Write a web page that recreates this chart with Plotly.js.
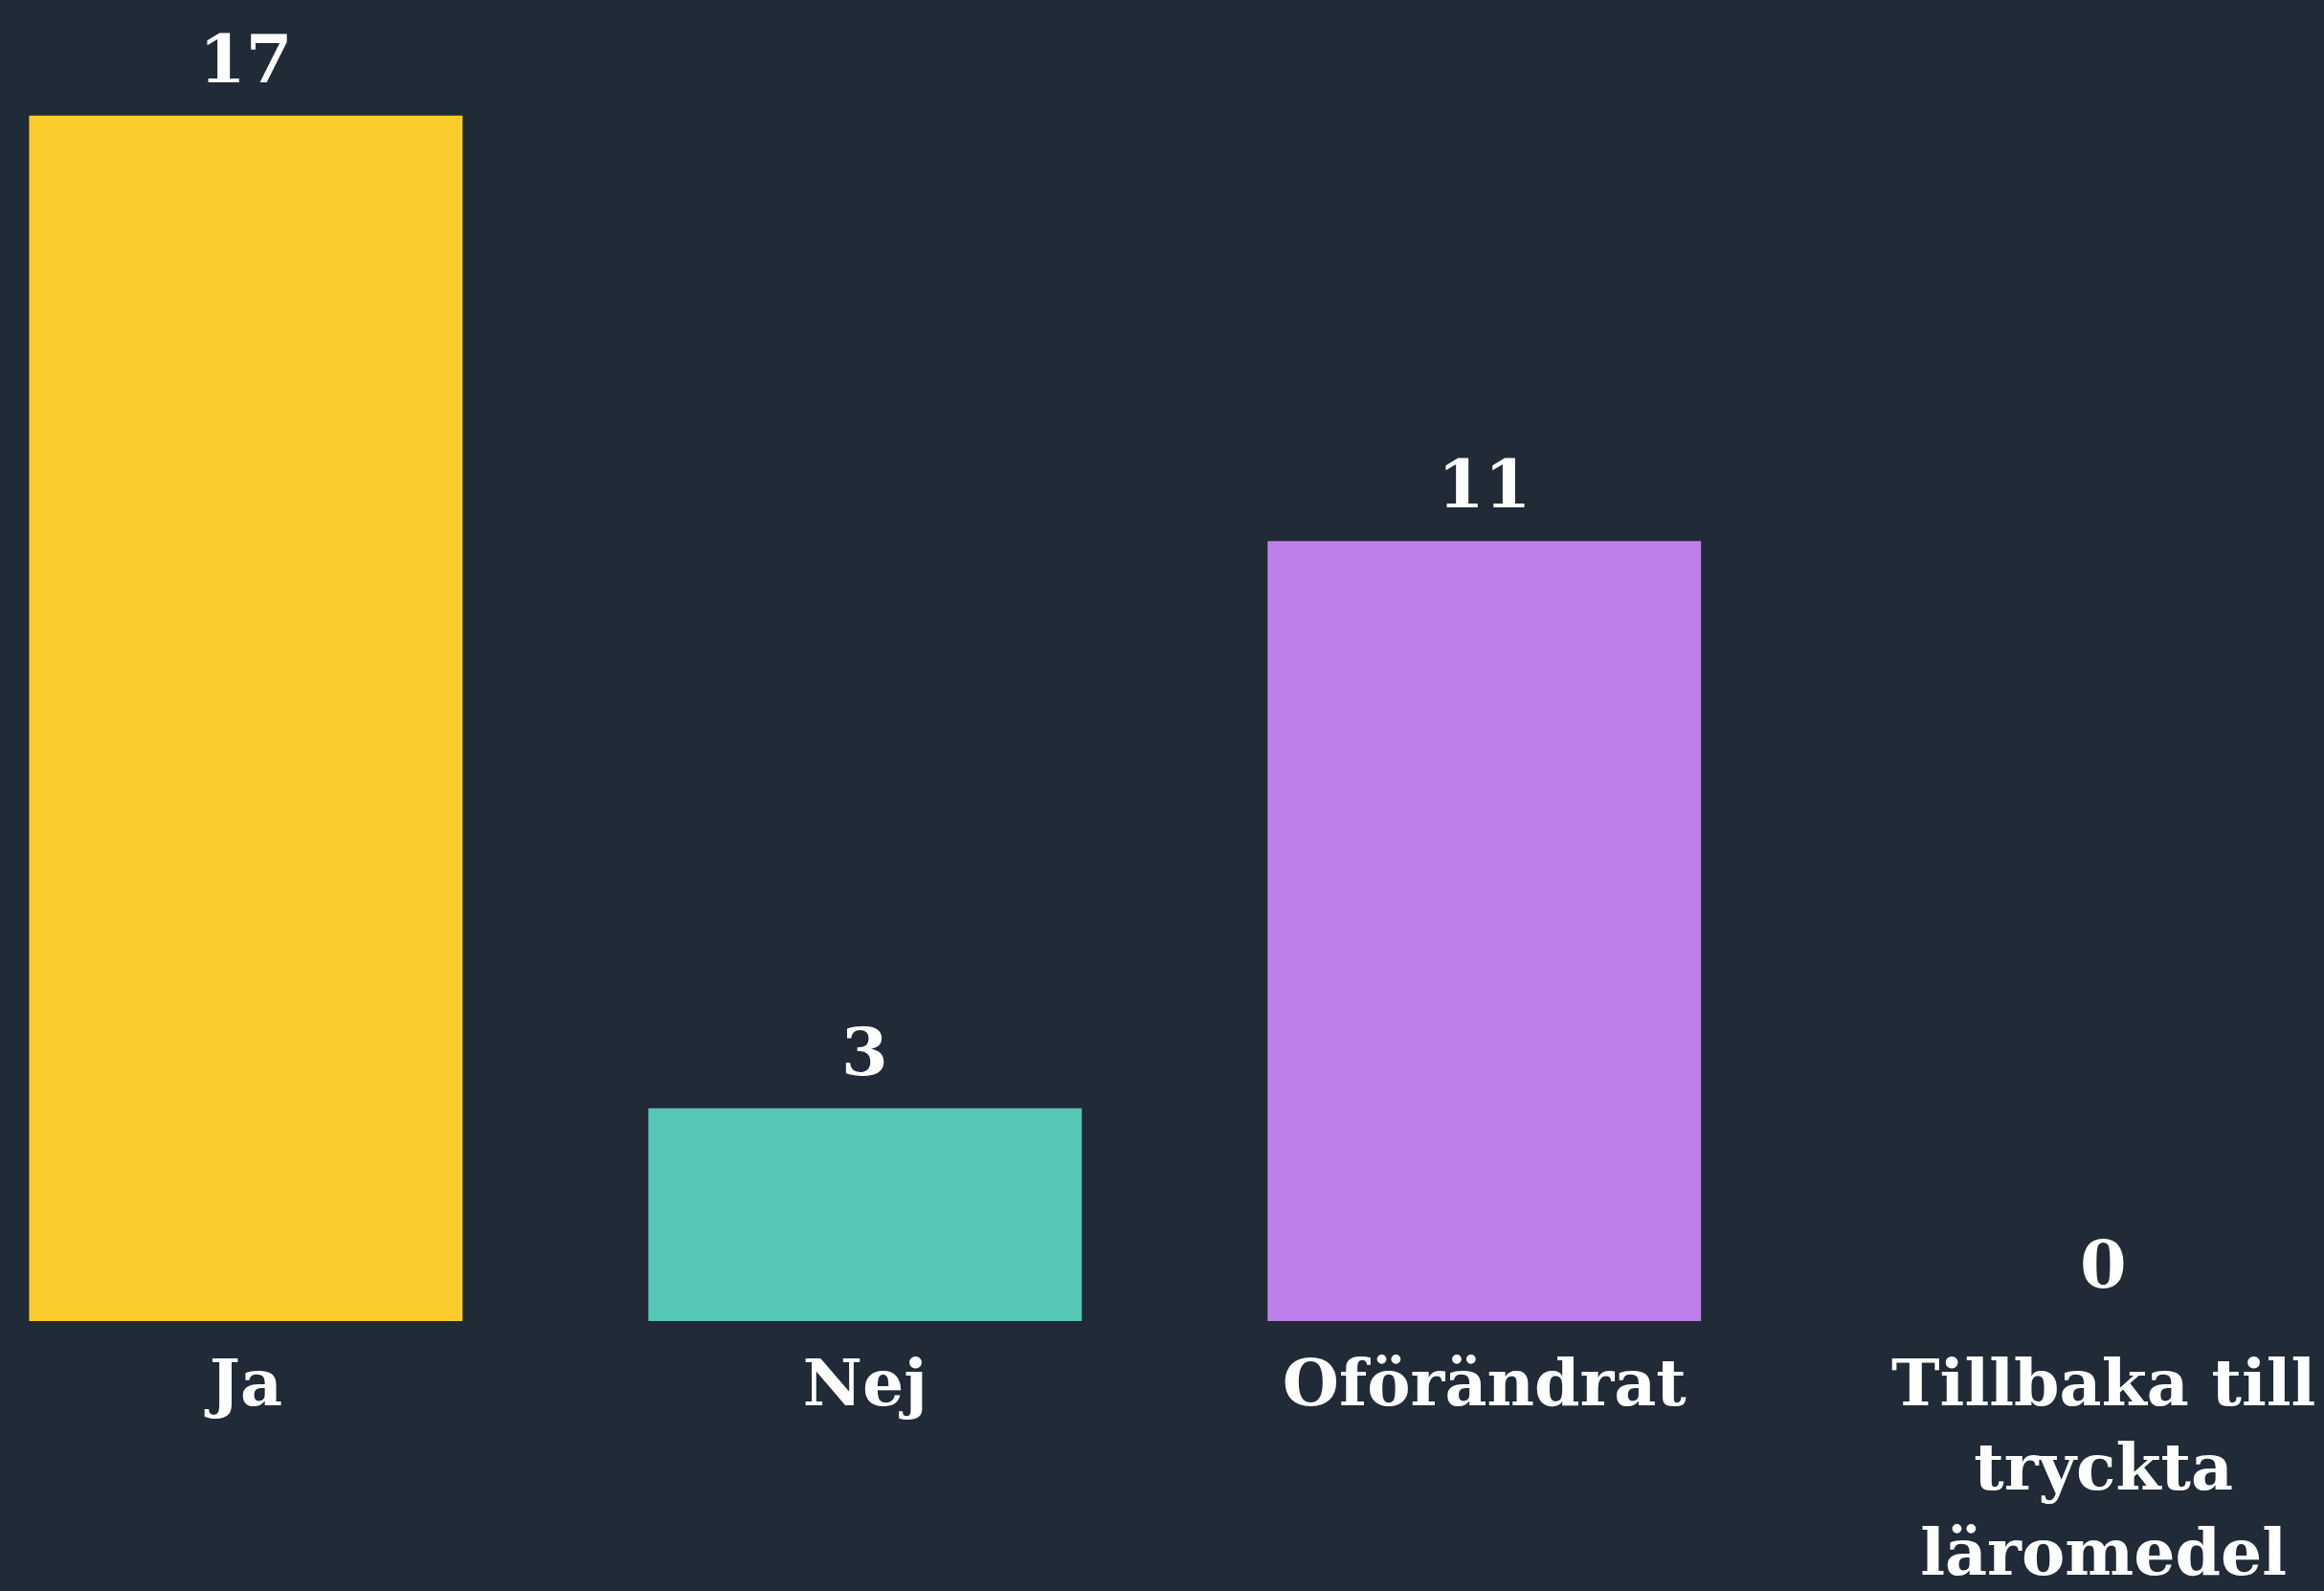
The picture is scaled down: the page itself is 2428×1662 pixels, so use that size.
<!DOCTYPE html>
<html>
<head>
<meta charset="utf-8">
<script src="https://cdn.plot.ly/plotly-3.0.1.min.js"></script>
<style>html,body{margin:0;padding:0;background:#212a37;}</style>
</head>
<body>
<div id="chart" style="width:2428px;height:1662px;"></div>
<script>
const categories = ["Ja", "Nej", "Oförändrat", "Tillbaka till<br>tryckta<br>läromedel"];
const values = [17, 3, 11, 0];
const barColors = ["#fccb2c", "#56c6b6", "#bf7fea", "#ff8a65"];

const labelFont = {family: "DejaVu Serif", size: 68, color: "#ffffff", weight: "bold"};

const trace = {
  type: "bar",
  x: categories,
  y: values,
  marker: {color: barColors},
  hoverinfo: "none"
};

const annotations = categories.map((c, i) => ({
  x: c,
  y: values[i],
  xref: "x",
  yref: "y",
  text: String(values[i]),
  showarrow: false,
  yanchor: "bottom",
  yshift: 16,
  font: {family: "DejaVu Serif", size: 70, color: "#ffffff", weight: "bold"}
}));

const layout = {
  width: 2428,
  height: 1662,
  paper_bgcolor: "#212a37",
  plot_bgcolor: "#212a37",
  margin: {l: 0, r: 0, t: 0, b: 282},
  bargap: 0.3,
  showlegend: false,
  font: {family: "DejaVu Serif", color: "#ffffff"},
  annotations: annotations,
  xaxis: {
    type: "category",
    range: [-0.397, 3.356],
    showgrid: false,
    zeroline: false,
    showline: false,
    ticks: "",
    ticklabelstandoff: 19,
    tickfont: labelFont,
    fixedrange: true
  },
  yaxis: {
    range: [0, 18.63],
    visible: false,
    showgrid: false,
    zeroline: false,
    fixedrange: true
  }
};

Plotly.newPlot("chart", [trace], layout, {displayModeBar: false, staticPlot: true});
</script>
</body>
</html>
